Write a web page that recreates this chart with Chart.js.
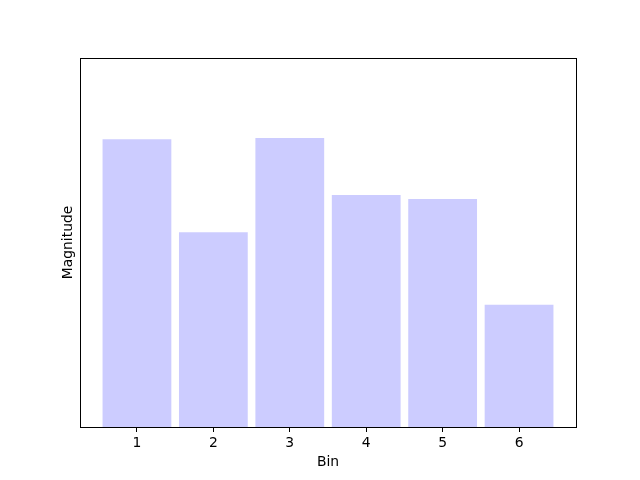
<!DOCTYPE html>
<html>
<head>
<meta charset="utf-8">
<script src="https://cdn.jsdelivr.net/npm/chart.js@4/dist/chart.umd.min.js"></script>
<style>
html,body{margin:0;padding:0;background:#fff;}
#c{display:block;}
</style>
</head>
<body>
<canvas id="c" width="640" height="480"></canvas>
<script>
const bins = [1, 2, 3, 4, 5, 6];
const magnitudes = [7.80, 5.28, 7.83, 6.29, 6.18, 3.31];
const yMax = 10;
const xMin = 0.255, xMax = 6.745;

const FONT = "'DejaVu Sans', sans-serif";
const framePlugin = {
  id: 'frame',
  afterDraw(chart) {
    const {ctx, chartArea: a} = chart;
    ctx.save();
    ctx.strokeStyle = '#000';
    ctx.lineWidth = 1;
    ctx.strokeRect(Math.round(a.left) + 0.5, Math.round(a.top) + 0.5,
      Math.round(a.right) - Math.round(a.left), Math.round(a.bottom) - Math.round(a.top));
    ctx.restore();
  }
};

new Chart(document.getElementById('c'), {
  type: 'bar',
  data: {
    datasets: [{
      data: bins.map((b, i) => ({x: b, y: magnitudes[i]})),
      backgroundColor: 'rgb(204,204,255)',
      borderWidth: 0,
      barPercentage: 0.9,
      categoryPercentage: 1.0
    }]
  },
  options: {
    responsive: false,
    animation: false,
    devicePixelRatio: 1,
    layout: {padding: {top: 58, right: 64, left: 0, bottom: 0}},
    plugins: {legend: {display: false}, tooltip: {enabled: false}},
    scales: {
      x: {
        type: 'linear',
        min: xMin, max: xMax,
        offset: false,
        afterBuildTicks(scale) { scale.ticks = bins.map(v => ({value: v})); },
        afterFit(scale) { scale.height = 53; },
        grid: {offset: false, drawOnChartArea: false, drawTicks: true, tickLength: 5, color: '#000', lineWidth: 1},
        border: {display: false},
        ticks: {color: '#000', padding: 3, maxRotation: 0, font: {family: FONT, size: 13.9},
          callback: v => String(v)},
        title: {display: true, text: 'Bin', color: '#000', font: {family: FONT, size: 13.9},
          padding: {top: 0, bottom: 9}}
      },
      y: {
        min: 0, max: yMax,
        afterFit(scale) { scale.width = 80; },
        grid: {display: false},
        border: {display: false},
        ticks: {display: false},
        title: {display: true, text: 'Magnitude', color: '#000', font: {family: FONT, size: 13.9},
          padding: {top: 60, bottom: 0}}
      }
    }
  },
  plugins: [framePlugin]
});
</script>
</body>
</html>
